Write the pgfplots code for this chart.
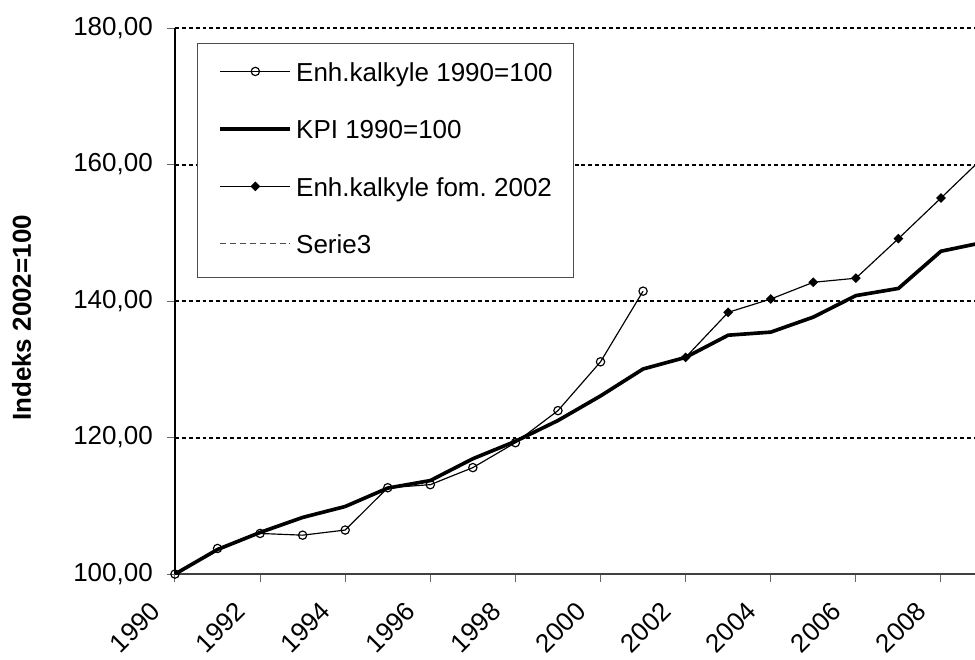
\documentclass[border=0pt]{standalone}
\usepackage{fontspec}
\setmainfont{Liberation Sans}
\usepackage{pgfplots}
\pgfplotsset{compat=1.18}

\begin{document}
\begin{tikzpicture}
\begin{axis}[
  scale only axis,
  width=307.7pt, height=210pt,
  xmin=1990, xmax=2008.8,
  ymin=100, ymax=180,
  axis lines=left,
  x axis line style={-, draw=black!75, line width=0.8pt},
  y axis line style={-, draw=black, line width=0.8pt},
  xtick={1990,1992,...,2008},
  ytick={100,120,...,180},
  tick align=outside,
  major tick length=3pt,
  tick style={black!60, line width=0.4pt},
  ymajorgrids,
  grid style={black, line width=0.75pt, dash pattern=on 1.5pt off 1.15pt},
  /pgf/number format/assume math mode=true,
  font=\fontsize{10pt}{12pt}\selectfont,
  x tick label style={/pgf/number format/1000 sep={}, inner sep=0pt, xshift=-10pt, yshift=-6.8pt, rotate=45, anchor=north east},
  y tick label style={xshift=-2pt, /pgf/number format/.cd, fixed, fixed zerofill, precision=2, use comma, 1000 sep={}},
  ylabel={\bfseries Indeks 2002=100},
  ylabel style={at={(axis description cs:0,0.5)}, anchor=center, yshift=59pt, xshift=-6.5pt},
  legend style={at={(rel axis cs:0.0275,0.9725)}, anchor=north west,
    draw=black!70, line width=0.5pt, inner xsep=8pt, inner ysep=7pt,
    row sep=12.4pt, column sep=1.5pt,
    nodes={inner sep=0pt, text height=7.5pt, text depth=2.2pt},
    font=\fontsize{10pt}{12pt}\selectfont},
  legend cell align=left,
  legend image code/.code={\draw[mark repeat=2,mark phase=2,#1] plot coordinates {(0pt,1.2pt) (13.5pt,1.2pt) (27pt,1.2pt)};},
  clip=true,
]
\addplot[black, line width=0.45pt, mark=o, mark size=1.6pt, mark options={solid, line width=0.45pt}] coordinates {
(1990,100) (1991,103.75) (1992,105.95) (1993,105.7) (1994,106.45) (1995,112.65)
(1996,113.1) (1997,115.6) (1998,119.25) (1999,123.95) (2000,131.1) (2001,141.45)
};
\addlegendentry{Enh.kalkyle 1990=100}
\addplot[black, line width=1.4pt, mark=none] coordinates {
(1990,100) (1991,103.6) (1992,106.1) (1993,108.3) (1994,109.9) (1995,112.6)
(1996,113.7) (1997,116.9) (1998,119.45) (1999,122.5) (2000,126.1) (2001,130.05)
(2002,131.75) (2003,135.0) (2004,135.45) (2005,137.65) (2006,140.8) (2007,141.85)
(2008,147.3) (2009,148.6)
};
\addlegendentry{KPI 1990=100}
\addplot[black, line width=0.45pt, mark=square*, mark size=1.1pt, mark options={solid, rotate=45}] coordinates {
(2002,131.75) (2003,138.35) (2004,140.3) (2005,142.75) (2006,143.35) (2007,149.15)
(2008,155.1) (2009,161.1)
};
\addlegendentry{Enh.kalkyle fom.\ 2002}
\addlegendimage{black!70, line width=0.45pt, dash pattern=on 2.3pt off 1.5pt}
\addlegendentry{Serie3}
\coordinate (BL) at (rel axis cs:0,0);
\coordinate (TR) at (rel axis cs:1,1);
\end{axis}
\pgfresetboundingbox
\path[use as bounding box] ([xshift=-67.3pt, yshift=-32.7pt]BL) rectangle ([yshift=10.8pt]TR);
\end{tikzpicture}
\end{document}
